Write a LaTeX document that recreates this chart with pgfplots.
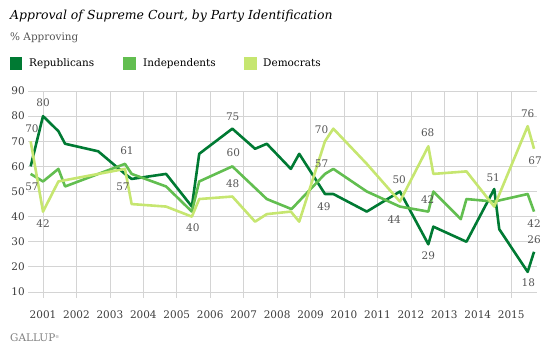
\documentclass[border=0pt]{standalone}
\usepackage{fontspec}
\setmainfont{DejaVu Serif}
\usepackage{pgfplots}
\pgfplotsset{compat=1.18}
\definecolor{rep}{RGB}{0,122,51}
\definecolor{ind}{RGB}{98,190,80}
\definecolor{dem}{RGB}{198,230,112}
\definecolor{lbl}{RGB}{85,85,85}
\definecolor{tick}{RGB}{60,60,60}
\definecolor{gridc}{RGB}{212,212,212}
\newcommand{\lf}{\fontsize{10.5}{12}\selectfont}
\begin{document}
\begin{tikzpicture}
\useasboundingbox (0,0) rectangle (544bp,354bp);
\node[anchor=base west, inner sep=0, font=\fontsize{12.5}{14}\selectfont\itshape] at (10bp,334.7bp) {Approval of Supreme Court, by Party Identification};
\node[anchor=base west, inner sep=0, font=\lf, text=lbl] at (10bp,313bp) {\% Approving};
\fill[rep] (10bp,284bp) rectangle (22bp,297bp);
\node[anchor=base west, inner sep=0, font=\lf] at (29bp,287.3bp) {Republicans};
\fill[ind] (123bp,284bp) rectangle (136bp,297bp);
\node[anchor=base west, inner sep=0, font=\lf] at (143bp,287.3bp) {Independents};
\fill[dem] (244bp,284bp) rectangle (257bp,297bp);
\node[anchor=base west, inner sep=0, font=\lf] at (263bp,287.3bp) {Democrats};
\node[anchor=base west, inner sep=0, font=\fontsize{10.5}{12}\selectfont, text=gray] at (10bp,12.3bp) {GALLUP\raisebox{3bp}{\fontsize{4}{4}\selectfont ®}};
\begin{axis}[
  at={(28.3bp,62bp)}, anchor=south west, scale only axis,
  width=508.4bp, height=201bp,
  xmin=2000.56, xmax=2015.76, ymin=10, ymax=90,
  xtick={2001,2002,...,2015}, ytick={10,20,...,90},
  /pgf/number format/1000 sep={},
  /pgf/number format/assume math mode=true,
  axis line style={draw=none},
  grid=major, major grid style={gridc, line width=0.8bp},
  tick pos=left, xtick align=outside, major tick length=6bp,
  xtick style={gridc, line width=0.8bp},
  ytick style={draw=none},
  tick label style={font=\lf, text=tick},
  xticklabel style={yshift=-9bp},
  clip=false,
]
\addplot[rep, line width=2.6bp, line join=round] coordinates {
(2000.63,60)(2001.0,80)(2001.46,74)(2001.66,69)(2002.65,66)(2003.45,57)(2003.65,55)(2004.68,57)(2005.45,44)(2005.67,65)(2006.66,75)(2007.34,67)(2007.69,69)(2008.41,59)(2008.66,65)(2009.43,49)(2009.68,49)(2010.68,42)(2011.67,50)(2012.52,29)(2012.67,36)(2013.66,30)(2014.49,51)(2014.64,35)(2015.49,18)(2015.68,26)};
\addplot[ind, line width=2.6bp, line join=round] coordinates {
(2000.63,57)(2001.0,54)(2001.46,59)(2001.66,52)(2003.45,61)(2003.65,57)(2004.68,52)(2005.45,42)(2005.67,54)(2006.66,60)(2007.69,47)(2008.43,43)(2009.43,57)(2009.68,59)(2010.68,50)(2011.67,44)(2012.52,42)(2012.67,50)(2013.49,39)(2013.66,47)(2014.49,46)(2015.49,49)(2015.68,42)};
\addplot[dem, line width=2.6bp, line join=round] coordinates {
(2000.63,70)(2001.0,42)(2001.46,54)(2003.45,59)(2003.65,45)(2004.68,44)(2005.45,40)(2005.67,47)(2006.66,48)(2007.34,38)(2007.69,41)(2008.41,42)(2008.66,38)(2009.43,70)(2009.68,75)(2010.68,61)(2011.67,46)(2012.52,68)(2012.67,57)(2013.66,58)(2014.49,44)(2015.49,76)(2015.68,67)};
\begin{scope}[every node/.style={font=\lf, text=lbl, inner sep=0}]
\node at (axis cs:2001.0,85.2) {80};
\node at (axis cs:2000.67,74.9) {70};
\node at (axis cs:2000.67,51.8) {57};
\node at (axis cs:2001.0,37.1) {42};
\node at (axis cs:2003.51,66.1) {61};
\node at (axis cs:2003.39,51.8) {57};
\node at (axis cs:2005.48,35.5) {40};
\node at (axis cs:2006.67,79.8) {75};
\node at (axis cs:2006.69,65.4) {60};
\node at (axis cs:2006.67,53.3) {48};
\node at (axis cs:2009.33,74.8) {70};
\node at (axis cs:2009.33,61.2) {57};
\node at (axis cs:2009.40,44.0) {49};
\node at (axis cs:2011.65,54.6) {50};
\node at (axis cs:2011.50,38.7) {44};
\node at (axis cs:2012.50,73.4) {68};
\node at (axis cs:2012.50,46.6) {42};
\node at (axis cs:2012.52,24.3) {29};
\node at (axis cs:2014.46,55.5) {51};
\node at (axis cs:2015.49,81.1) {76};
\node at (axis cs:2015.71,62.1) {67};
\node at (axis cs:2015.68,37.3) {42};
\node at (axis cs:2015.68,31.0) {26};
\node at (axis cs:2015.51,13.9) {18};
\end{scope}
\end{axis}
\end{tikzpicture}
\end{document}
